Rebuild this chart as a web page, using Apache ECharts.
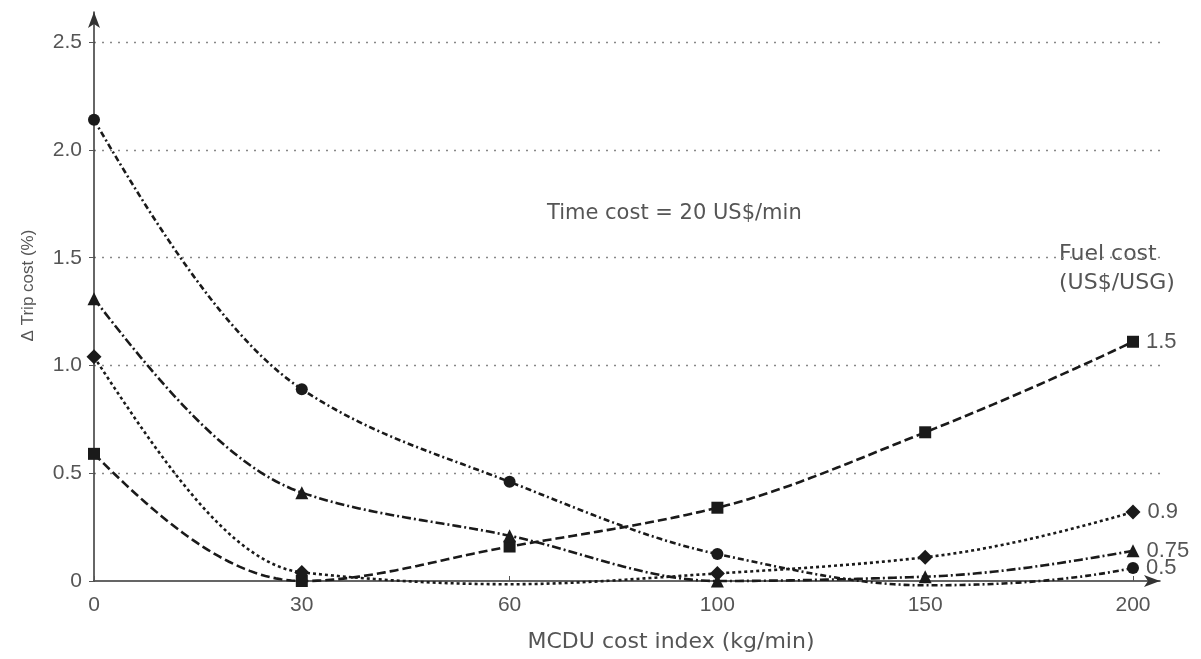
<!DOCTYPE html>
<html>
<head>
<meta charset="utf-8">
<script src="https://cdn.jsdelivr.net/npm/echarts@6/dist/echarts.min.js"></script>
<style>
  html, body { margin: 0; padding: 0; background: #fff; }
  #chart { width: 1201px; height: 659px; }
</style>
</head>
<body>
<div id="chart"></div>
<script>
// MCDU cost index steps (evenly spaced on the axis)
const costIndex = ['0', '30', '60', '100', '150', '200'];
const yTicks = [0, 0.5, 1.0, 1.5, 2.0, 2.5];

// Δ trip cost (%) for each fuel cost (US$/USG)
const fuel15 = [0.59, 0.00, 0.16, 0.34, 0.69, 1.11];
const fuel09 = [1.04, 0.04, -0.015, 0.035, 0.11, 0.32];
const fuel075 = [1.31, 0.41, 0.21, 0.00, 0.02, 0.14];
const fuel05 = [2.14, 0.89, 0.46, 0.125, -0.02, 0.06];

const ink = '#1a1a1a';
const textColor = '#555';
const font = 'Liberation Sans, Arial, sans-serif';
const wideFont = 'DejaVu Sans, Verdana, sans-serif';

function pts(vals) { return vals.map((v, i) => [i, v]); }

// Monotone cubic (Fritsch–Carlson) tangents on unit-spaced steps
function tangents(y) {
  const n = y.length;
  const d = [];
  for (let i = 0; i < n - 1; i++) d.push(y[i + 1] - y[i]);
  const m = new Array(n).fill(0);
  for (let i = 1; i < n - 1; i++) {
    const a = d[i - 1], b = d[i];
    m[i] = (a * b <= 0) ? 0 : 2 * a * b / (a + b);
  }
  function endTan(d0, d1) {
    let t = (3 * d0 - d1) / 2;
    if (t * d0 <= 0) return 0;
    if (Math.abs(t) > 3 * Math.abs(d0)) t = 3 * d0;
    return t;
  }
  m[0] = endTan(d[0], d[1]);
  m[n - 1] = endTan(d[n - 2], d[n - 3]);
  return m;
}

// Sample the curve in data space (step index, value)
function curve(y, steps) {
  const m = tangents(y);
  const out = [];
  for (let i = 0; i < y.length - 1; i++) {
    for (let k = 0; k < steps; k++) {
      const t = k / steps, t2 = t * t, t3 = t2 * t;
      const h00 = 2 * t3 - 3 * t2 + 1, h10 = t3 - 2 * t2 + t;
      const h01 = -2 * t3 + 3 * t2, h11 = t3 - t2;
      out.push([i + t, h00 * y[i] + h10 * m[i] + h01 * y[i + 1] + h11 * m[i + 1]]);
    }
  }
  out.push([y.length - 1, y[y.length - 1]]);
  return out;
}

function curveSeries(vals, dash) {
  return {
    type: 'custom',
    data: [0],
    silent: true,
    z: 2,
    renderItem: function (params, api) {
      const points = curve(vals, 40).map(p => api.coord(p));
      return {
        type: 'polyline',
        shape: { points: points },
        style: { stroke: ink, lineWidth: 2.6, lineDash: dash, fill: null }
      };
    }
  };
}

function markerSeries(name, vals, symbol, size) {
  const last = vals.length - 1;
  return {
    name: name,
    type: 'scatter',
    data: pts(vals),
    symbol: symbol,
    symbolSize: size,
    itemStyle: { color: ink, opacity: 1 },
    z: 3,
    label: {
      show: true,
      position: 'right',
      distance: 7,
      color: textColor,
      fontFamily: font,
      fontSize: 22,
      formatter: p => (p.dataIndex === last ? name : '')
    }
  };
}

const chart = echarts.init(document.getElementById('chart'));
chart.setOption({
  backgroundColor: '#fff',
  animation: false,
  grid: { left: 94, right: 41, top: 12, bottom: 78, containLabel: false },
  xAxis: {
    type: 'value',
    min: 0,
    max: 5.13,
    interval: 1,
    name: 'MCDU cost index (kg/min)',
    nameLocation: 'middle',
    nameGap: 50,
    nameTextStyle: { color: textColor, fontFamily: wideFont, fontSize: 22, padding: [0, 0, 0, 88] },
    axisLine: { show: true, lineStyle: { color: '#333', width: 1.5 }, symbol: ['none', 'arrow'], symbolSize: [9, 16] },
    axisTick: { show: true, length: 5, inside: true, lineStyle: { color: '#555' } },
    axisLabel: {
      color: textColor, fontFamily: font, fontSize: 21, margin: 14,
      showMaxLabel: false,
      formatter: v => (Number.isInteger(v) && costIndex[v] !== undefined) ? costIndex[v] : ''
    },
    splitLine: { show: false }
  },
  yAxis: {
    type: 'value',
    min: 0,
    max: 2.64,
    interval: 0.5,
    name: 'Δ Trip cost (%)',
    nameLocation: 'middle',
    nameGap: 57,
    nameRotate: 90,
    nameTextStyle: { color: textColor, fontFamily: font, fontSize: 17, padding: [0, 0, 0, 22] },
    axisLine: { show: true, lineStyle: { color: '#333', width: 1.5 }, symbol: ['none', 'arrow'], symbolSize: [9, 16] },
    axisTick: { show: true, length: 5, lineStyle: { color: '#555' } },
    axisLabel: {
      color: textColor, fontFamily: font, fontSize: 21, margin: 12,
      showMaxLabel: false,
      formatter: v => {
        const t = yTicks.find(k => Math.abs(k - v) < 1e-6);
        return t === undefined ? '' : (t === 0 ? '0' : t.toFixed(1));
      }
    },
    splitLine: { show: true, showMaxLine: false, showMinLine: false, lineStyle: { color: '#888', type: [2, 6], width: 1.4 } }
  },
  series: [
    curveSeries(fuel15, [9, 4]),
    curveSeries(fuel09, [3, 3]),
    curveSeries(fuel075, [9, 3, 2, 3]),
    curveSeries(fuel05, [6, 3, 2, 3]),
    markerSeries('1.5', fuel15, 'rect', 12),
    markerSeries('0.9', fuel09, 'diamond', 15),
    markerSeries('0.75', fuel075, 'triangle', 13),
    markerSeries('0.5', fuel05, 'circle', 12)
  ],
  graphic: [
    {
      type: 'text', left: 547, top: 203,
      style: { text: 'Time cost = 20 US$/min', fill: textColor, font: '21px ' + wideFont }
    },
    {
      type: 'text', left: 1059, top: 240,
      style: { text: 'Fuel cost\n(US$/USG)', fill: textColor, font: '22px ' + wideFont, align: 'center', lineHeight: 29, x: 58 }
    }
  ]
});
</script>
</body>
</html>
